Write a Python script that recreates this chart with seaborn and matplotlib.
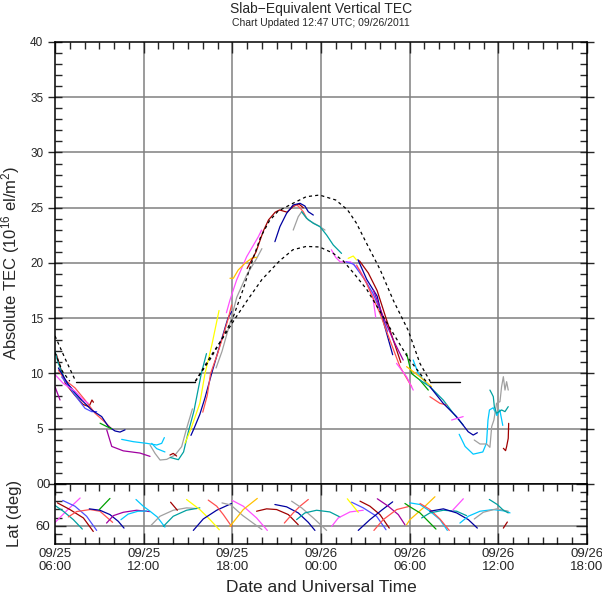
import matplotlib
matplotlib.use("Agg")
import matplotlib.pyplot as plt
import pandas as pd
import seaborn as sns
from matplotlib.ticker import FixedLocator, MultipleLocator

# colours used by the satellite tracks
DR = "#a00000"   # dark red
SA = "#ff5050"   # salmon red
BL = "#5050ff"   # blue
NV = "#0000a0"   # navy
MG = "#ff50ff"   # magenta
PU = "#a000a0"   # purple
CY = "#00c8ff"   # cyan
TL = "#00a0a0"   # teal
GR = "#a0a0a0"   # gray
YE = "#ffff00"   # yellow
GO = "#ffc000"   # gold
GN = "#00a000"   # green

# x axis = hours since 09/25 00:00 UTC
x_ticks = [6, 12, 18, 24, 30, 36, 42]
x_labels = ["09/25\n06:00", "09/25\n12:00", "09/25\n18:00", "09/26\n00:00",
            "09/26\n06:00", "09/26\n12:00", "09/26\n18:00"]

# model envelope (black dashed) and the floor (black solid)
upper_left_h = [6.0, 6.7, 7.4]
upper_left_tec = [13.4, 11.3, 9.3]
lower_left_h = [6.0, 6.5, 7.0]
lower_left_tec = [11.9, 10.2, 9.3]
upper_h = [15.5, 16.5, 17.2, 18.0, 18.7, 19.3, 19.9, 20.5, 21.1, 22.1, 23.0, 23.9,
           25.0, 25.8, 26.4, 27.0, 28.0, 28.9, 29.9, 30.7, 31.4]
upper_tec = [9.3, 11.3, 12.9, 14.9, 17.5, 20.0, 22.3, 23.8, 24.7, 25.4, 26.0, 26.15,
             25.7, 24.8, 23.6, 22.0, 19.4, 16.6, 13.9, 10.9, 9.26]
lower_h = [15.5, 16.5, 17.4, 18.2, 19.0, 20.0, 21.2, 22.1, 23.0, 23.9, 24.8, 25.5,
           26.2, 27.1, 28.0, 28.9, 29.9, 30.7, 31.1]
lower_tec = [9.3, 11.5, 13.3, 15.0, 16.6, 18.5, 20.2, 21.2, 21.5, 21.45, 20.9, 20.2,
             19.1, 17.6, 15.6, 13.6, 11.4, 10.0, 9.3]
floor_tec = 9.26
floor_spans = [(7.4, 15.5), (31.4, 33.4)]

# TEC tracks: (colour, hours, TEC)
morning_tracks = [
    (DR, [6.1, 6.35, 6.7, 7.3, 7.9, 8.3, 8.5, 8.6], [11.7, 10.6, 9.1, 8.1, 7.2, 7.0, 7.6, 7.4]),
    (TL, [6.0, 6.23, 6.68, 7.35, 7.8], [12.0, 10.9, 9.4, 8.2, 7.6]),
    (SA, [6.23, 6.68, 7.35, 8.03, 8.71, 9.38, 9.83], [10.3, 9.4, 8.7, 7.6, 6.4, 5.6, 5.0]),
    (BL, [6.45, 7.35, 8.03, 8.48, 8.82], [9.7, 8.05, 6.85, 6.55, 6.55]),
    (NV, [6.23, 6.9, 7.8, 8.48, 9.16, 9.61, 10.06, 10.4, 10.74], [10.5, 9.0, 7.6, 6.7, 6.1, 5.2, 4.8, 4.7, 4.9]),
    (MG, [6.0, 6.56, 7.35, 7.92, 8.26], [9.9, 9.1, 8.4, 7.6, 7.3]),
    (PU, [6.0, 6.34], [8.8, 7.6]),
    (PU, [9.5, 9.84, 10.62, 11.75, 12.43], [4.9, 3.4, 3.0, 2.8, 2.5]),
    (GN, [9.05, 9.5, 9.83], [5.5, 5.2, 5.0]),
    (CY, [10.51, 11.3, 12.2, 12.88, 13.22, 13.4], [4.04, 3.83, 3.68, 3.53, 3.68, 4.2]),
    (CY, [12.54, 12.88, 13.44], [3.68, 3.2, 2.9]),
]
rising_tracks = [
    (GR, [12.43, 12.77, 13.11, 13.56, 14.12, 14.57, 14.9, 15.3], [3.53, 2.77, 2.17, 2.23, 2.62, 3.38, 5.0, 6.8]),
    (DR, [13.78, 14.0, 14.23], [2.62, 2.77, 2.53]),
    (TL, [13.8, 14.35, 14.7, 15.0, 15.4, 15.9, 16.25], [2.4, 2.2, 2.9, 4.6, 6.6, 10.0, 11.8]),
    (YE, [14.8, 15.2, 15.8, 16.15, 16.6, 17.1], [3.7, 5.0, 7.3, 10.0, 12.5, 15.7]),
    (NV, [15.2, 15.4, 15.8, 16.15, 16.6, 17.1, 17.7, 17.95], [4.4, 5.0, 6.3, 7.8, 10.0, 12.3, 15.0, 15.6]),
    (SA, [16.0, 16.3, 16.53, 17.0, 17.4, 17.73, 17.95], [6.5, 8.0, 10.0, 11.8, 13.5, 15.0, 16.2]),
    (GR, [16.9, 17.3, 17.85, 18.3, 19.0, 19.6, 20.0], [10.5, 12.0, 14.6, 16.9, 19.0, 20.3, 21.3]),
    (MG, [17.6, 17.84, 18.29, 18.97, 19.76, 19.98], [15.5, 16.65, 18.46, 20.57, 22.38, 22.98]),
    (GO, [17.84, 18.07, 18.4, 18.85, 19.31, 19.64], [18.62, 18.62, 19.37, 19.97, 20.43, 20.52]),
    (DR, [19.0, 19.6, 20.1, 20.45, 20.9, 21.2, 21.7, 22.1, 22.5, 22.8], [19.5, 21.0, 22.9, 23.9, 24.6, 24.8, 24.6, 25.1, 25.35, 25.0]),
]
peak_tracks = [
    (SA, [22.01, 22.24, 22.46, 22.8, 23.03], [25.1, 25.25, 25.16, 24.64, 24.04]),
    (NV, [20.88, 21.22, 21.67, 22.12, 22.58, 22.91, 23.14, 23.48], [21.93, 23.29, 24.49, 25.25, 25.4, 25.16, 24.64, 24.34]),
    (GR, [22.12, 22.46, 22.69, 23.14, 23.93, 24.27], [22.98, 24.19, 24.64, 23.89, 23.29, 22.98]),
    (TL, [22.69, 23.03, 23.48, 23.93, 24.38, 24.83, 25.39], [24.64, 24.04, 23.59, 23.29, 22.53, 21.63, 20.87]),
]
falling_tracks = [
    (MG, [24.7, 25.0, 25.3, 26.0, 26.6, 27.1, 27.5, 27.7], [21.2, 20.5, 20.1, 20.1, 19.4, 18.2, 17.0, 15.1]),
    (YE, [25.84, 26.18, 26.41], [20.42, 20.63, 20.27]),
    (BL, [25.7, 26.2, 26.9, 27.5, 28.1, 28.5], [20.1, 19.9, 18.6, 17.3, 15.4, 13.8]),
    (NV, [26.5, 27.1, 27.8, 28.2, 28.85], [20.3, 18.5, 17.0, 14.8, 11.7]),
    (DR, [26.6, 27.2, 27.8, 28.4, 28.9, 29.4], [20.2, 19.1, 17.5, 15.0, 13.0, 11.0]),
    (SA, [26.41, 27.08, 27.99, 28.66, 29.34, 30.13], [19.82, 18.16, 15.44, 13.03, 10.62, 8.81]),
    (PU, [27.54, 28.21, 28.89, 29.56], [17.56, 15.14, 13.03, 11.22]),
    (MG, [29.11, 29.79, 30.24], [10.92, 9.71, 8.5]),
    (GN, [29.79, 30.13, 30.69, 31.26], [11.82, 10.0, 9.41, 8.5]),
    (CY, [30.24, 30.58, 31.14], [11.22, 10.0, 9.1]),
    (GO, [29.79, 30.69, 31.48], [10.62, 9.71, 8.81]),
    (TL, [30.69, 31.37, 32.27, 32.95, 33.62], [9.41, 8.81, 7.6, 6.4, 5.34]),
    (SA, [31.37, 32.05, 32.5], [7.9, 7.3, 7.15]),
    (NV, [31.37, 32.27, 33.17, 33.96, 34.3, 34.58], [8.81, 7.3, 6.1, 4.73, 4.43, 4.64]),
    (MG, [32.84, 33.62], [5.79, 6.1]),
]
tail_tracks = [
    (CY, [33.35, 33.75, 34.3, 34.95, 35.2, 35.3, 35.4, 35.65, 35.9, 36.1, 36.3],
     [4.5, 3.4, 2.7, 2.9, 3.7, 5.8, 6.7, 6.9, 6.2, 6.7, 5.3]),
    (GR, [34.37, 34.76, 35.21, 35.43, 35.55, 35.7, 35.88, 36.11, 36.22, 36.34, 36.45, 36.56, 36.67],
     [3.98, 3.62, 3.62, 3.32, 5.19, 5.79, 7.3, 7.45, 8.8, 9.71, 8.5, 9.26, 8.5]),
    (TL, [35.43, 35.55, 35.66, 35.73, 35.88, 36.22, 36.45, 36.67], [8.5, 8.2, 7.9, 7.0, 6.4, 6.7, 6.55, 7.0]),
    (DR, [36.34, 36.49, 36.56, 36.67, 36.7], [3.23, 3.02, 3.38, 4.13, 5.49]),
]

# pierce-point latitude arcs: (colour, hours, latitude)
lat_arcs = [
    (MG, [6.0, 6.8, 7.7], [55, 38, 20]),
    (TL, [6.0, 6.56, 7.24, 7.85], [30.7, 38.9, 50.9, 64.4]),
    (DR, [6.16, 7.01, 7.92, 8.59], [26.9, 36.5, 48.5, 67.8]),
    (BL, [6.52, 7.35, 8.14, 8.82], [23.5, 31.7, 46.1, 66.3]),
    (SA, [6.9, 7.46, 8.37, 9.04, 9.9], [47, 39.4, 36.5, 38.9, 54.8]),
    (NV, [8.32, 9.04, 9.72, 10.28, 10.67], [35.5, 37.5, 43.7, 53.3, 63]),
    (GN, [9.0, 9.72], [36.5, 20.6]),
    (PU, [9.49, 9.95, 10.62, 11.52, 12.43], [55.8, 45.2, 40.4, 37.5, 39.4]),
    (CY, [10.46, 10.95, 11.6, 12.2], [51, 43, 39, 38.5]),
    (CY, [11.48, 11.97, 12.43, 12.92, 13.44], [22.1, 31.7, 38.9, 47.1, 61.6]),
    (GR, [12.43, 13.1, 14.0, 14.9, 15.6], [60.6, 46.1, 37.5, 34.1, 35.1]),
    (TL, [13.33, 14.0, 14.9, 15.8], [60.6, 46.1, 37.5, 34.1]),
    (DR, [13.82, 14.28], [26, 37.5]),
    (YE, [14.9, 15.8, 16.49, 17.12], [22.1, 36.5, 50.9, 65.4]),
    (NV, [15.36, 16.03, 16.94, 17.95], [66.3, 50, 37.5, 27.8]),
    (SA, [16.37, 16.94, 17.39, 17.95], [23, 31.7, 43.7, 60.6]),
    (GR, [17.3, 17.9, 18.7, 20.0], [27, 30, 45, 65]),
    (MG, [18.0, 18.74, 19.64, 20.37], [23.5, 31.7, 48.5, 66.3]),
    (GO, [17.84, 18.74, 19.69], [60.6, 36.5, 20.6]),
    (DR, [19.64, 20.32, 21.0, 21.79, 22.46], [38.9, 35.5, 36.5, 43.7, 58.2]),
    (NV, [20.88, 21.67, 22.46, 23.14, 23.59], [29.3, 32.6, 41.3, 54.8, 66.3]),
    (SA, [21.52, 22.12, 22.58, 23.14], [55.8, 41.3, 31.7, 22.1]),
    (GR, [22.01, 22.69, 23.48, 24.38], [24.5, 34.1, 48.5, 66.3]),
    (TL, [22.35, 22.91, 23.7, 24.6, 25.28], [50.9, 41.3, 37.5, 39.9, 47.1]),
    (MG, [24.72, 25.17, 25.96, 26.86], [60.6, 48.5, 39.9, 37.5]),
    (YE, [25.78, 26.52], [21.1, 40.4]),
    (BL, [26.07, 26.86, 27.76, 28.4], [26, 34.1, 46.1, 65.4]),
    (DR, [26.64, 27.31, 27.99, 28.62], [24.5, 31.7, 43.7, 63]),
    (NV, [26.52, 27.31, 28.1, 28.85], [66.3, 50.9, 37.5, 25.5]),
    (PU, [27.81, 28.55, 29.23, 29.68], [21.1, 31.7, 43.7, 58.2]),
    (SA, [27.58, 28.21, 29.12, 30.02], [66.3, 50.9, 36.5, 31.7]),
    (GO, [29.79, 30.02, 30.92, 31.71], [58.2, 50.9, 34.1, 18.2]),
    (CY, [30.0, 30.7, 31.37, 32.05, 32.55], [26.9, 29.3, 38.9, 50.9, 66.3]),
    (GN, [29.68, 30.02, 30.7, 31.26, 31.78], [27.8, 32.6, 41.3, 53.3, 64.4]),
    (SA, [30.7, 31.37, 32.05, 32.68], [27.8, 36.5, 50, 66.3]),
    (TL, [30.81, 31.37, 32.28, 33.18, 33.85], [48.5, 41.3, 37.5, 38.9, 45.2]),
    (NV, [31.37, 32.28, 33.18, 33.97, 34.58], [38.9, 35.5, 41.3, 50.9, 63]),
    (MG, [32.91, 33.63], [37.5, 21.1]),
    (CY, [33.4, 33.97, 34.76, 35.66, 36.56, 36.79], [55.8, 46.1, 38.9, 36.5, 38.9, 41.3]),
    (GR, [34.37, 34.98, 35.88, 36.67], [50, 40.4, 35.5, 38.9]),
    (TL, [35.39, 35.93, 36.34, 36.67], [22.1, 29.3, 37.5, 41.3]),
    (DR, [36.34, 36.61], [63, 54.3]),
]


def tracks_to_frame(tracks, value_name):
    # long format table, one row per point, one id per track
    rows = []
    for i, (color, hours, values) in enumerate(tracks):
        for h, v in zip(hours, values):
            rows.append({"track": f"t{i}", "hour": h, value_name: v})
    df = pd.DataFrame(rows)
    palette = {f"t{i}": c for i, (c, _, _) in enumerate(tracks)}
    return df, palette


sns.set_style("ticks")
plt.rcParams["font.family"] = ["Liberation Sans", "DejaVu Sans"]
plt.rcParams["mathtext.default"] = "regular"

fig = plt.figure(figsize=(6.02, 5.94), dpi=100)
ax1 = fig.add_axes([55 / 602, 1 - 484 / 594, 532 / 602, 442 / 594])
ax2 = fig.add_axes([55 / 602, 1 - 543.5 / 594, 532 / 602, 59.5 / 594])

grid_color = "#808080"

# --- top panel: TEC ---
for y in range(5, 40, 5):
    ax1.axhline(y, color=grid_color, lw=1.1, zorder=0)
for x in x_ticks[1:-1]:
    ax1.axvline(x, color=grid_color, lw=1.1, zorder=0)

tec_tracks = morning_tracks + rising_tracks + peak_tracks + falling_tracks + tail_tracks
tec_df, tec_pal = tracks_to_frame(tec_tracks, "tec")
sns.lineplot(data=tec_df, x="hour", y="tec", hue="track", palette=tec_pal,
             estimator=None, sort=False, legend=False, lw=0.9, ax=ax1)

dash_kw = dict(color="black", lw=0.9, linestyle=(0, (2.5, 2.5)))
sns.lineplot(x=upper_left_h, y=upper_left_tec, sort=False, ax=ax1, **dash_kw)
sns.lineplot(x=lower_left_h, y=lower_left_tec, sort=False, ax=ax1, **dash_kw)
sns.lineplot(x=upper_h, y=upper_tec, sort=False, ax=ax1, **dash_kw)
sns.lineplot(x=lower_h, y=lower_tec, sort=False, ax=ax1, **dash_kw)
for x0, x1 in floor_spans:
    ax1.plot([x0, x1], [floor_tec, floor_tec], color="black", lw=1.0)

ax1.set_xlim(6, 42)
ax1.set_ylim(0, 40)
ax1.xaxis.set_major_locator(FixedLocator(x_ticks))
ax1.xaxis.set_minor_locator(MultipleLocator(1))
ax1.yaxis.set_major_locator(MultipleLocator(5))
ax1.yaxis.set_minor_locator(MultipleLocator(1))
ax1.tick_params(axis="x", which="both", direction="in", top=True, bottom=False,
                labelbottom=False, width=1.0)
ax1.tick_params(axis="y", which="both", direction="in", left=True, right=True,
                width=1.0, labelsize=8.5)
ax1.tick_params(which="major", length=8)
ax1.tick_params(which="minor", length=5)
ax1.tick_params(axis="y", which="major", direction="inout", length=10)
ax1.set_xlabel("")
ax1.set_ylabel("Absolute TEC (10$^{16}$ el/m$^{2}$)", fontsize=12)
ax1.yaxis.set_label_coords(-0.062, 0.5)

# --- bottom panel: latitude ---
ax2.axhline(60, color=grid_color, lw=1.1, zorder=0)
for x in x_ticks[1:-1]:
    ax2.axvline(x, color=grid_color, lw=1.1, zorder=0)

lat_df, lat_pal = tracks_to_frame(lat_arcs, "lat")
sns.lineplot(data=lat_df, x="hour", y="lat", hue="track", palette=lat_pal,
             estimator=None, sort=False, legend=False, lw=0.9, ax=ax2)

ax2.set_xlim(6, 42)
ax2.set_ylim(85, 0)
ax2.set_yticks([0, 60])
ax2.yaxis.set_minor_locator(FixedLocator([12, 24, 36, 48, 72]))
ax2.set_xticks(x_ticks)
ax2.set_xticklabels(x_labels)
ax2.xaxis.set_minor_locator(MultipleLocator(1))
ax2.tick_params(which="both", direction="in", top=True, bottom=True, left=True,
                right=True, width=1.0, labelsize=9.5)
ax2.tick_params(which="major", length=8)
ax2.tick_params(which="minor", length=5)
ax2.tick_params(axis="x", pad=3, labelsize=9.5)
ax2.set_ylabel("Lat (deg)", fontsize=12)
ax2.yaxis.set_label_coords(-0.062, 0.5)
ax2.set_xlabel("Date and Universal Time", fontsize=12.5)
ax2.xaxis.set_label_coords(0.5, -0.62)

for ax in (ax1, ax2):
    for s in ax.spines.values():
        s.set_color("black")
        s.set_linewidth(1.1)

fig.text(321 / 602, 1 - 2 / 594, "Slab\u2212Equivalent Vertical TEC", ha="center", va="top",
         fontsize=10)
fig.text(321 / 602, 1 - 18 / 594, "Chart Updated 12:47 UTC; 09/26/2011", ha="center",
         va="top", fontsize=7.5)

fig.savefig("out.png", dpi=100)
